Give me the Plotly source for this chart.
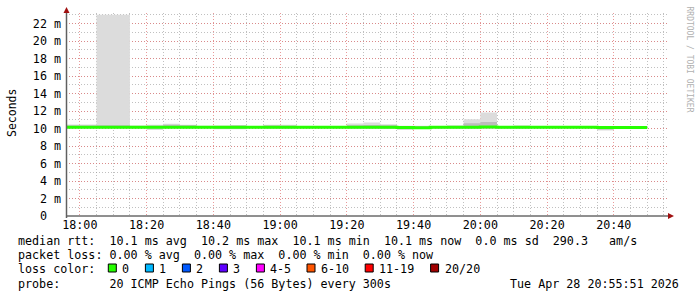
import plotly.graph_objects as go
import pandas as pd

DAY = "2026-04-28"
# --- data (5-minute bins, value belongs to the bin ending at the given time) ---
bin_end = ["18:00", "18:05", "18:10", "18:15", "18:20", "18:25", "18:30", "18:35",
           "18:40", "18:45", "18:50", "18:55", "19:00", "19:05", "19:10", "19:15",
           "19:20", "19:25", "19:30", "19:35", "19:40", "19:45", "19:50", "19:55",
           "20:00", "20:05", "20:10", "20:15", "20:20", "20:25", "20:30", "20:35",
           "20:40", "20:45", "20:50"]
median_ms = [10.14, 10.14, 10.15, 10.15, 10.14, 10.13, 10.14, 10.14,
             10.13, 10.13, 10.14, 10.13, 10.14, 10.14, 10.13, 10.13,
             10.14, 10.14, 10.14, 10.13, 10.12, 10.10, 10.14, 10.14,
             10.15, 10.16, 10.13, 10.13, 10.14, 10.14, 10.14, 10.14,
             10.12, 10.12, 10.12]
smoke_min = [10.06, 10.06, 10.06, 10.06, 10.06, 9.82, 10.05, 10.05,
             10.06, 9.92, 9.92, 10.05, 10.04, 10.04, 10.06, 10.06,
             10.06, 10.04, 10.04, 10.00, 9.86, 10.00, 10.04, 10.04,
             10.04, 10.04, 10.04, 10.04, 10.06, 10.06, 10.06, 10.06,
             9.77, 9.96, 9.98]
smoke_max = [10.46, 10.46, 23.0, 23.0, 10.35, 10.42, 10.54, 10.42,
             10.31, 10.34, 10.36, 10.28, 10.42, 10.42, 10.30, 10.30,
             10.30, 10.57, 10.69, 10.50, 10.31, 10.31, 10.30, 10.38,
             11.07, 11.83, 10.30, 10.32, 10.28, 10.28, 10.28, 10.28,
             10.26, 10.26, 10.26]
core_lo = [10.02, 10.02, 10.02, 10.02, 10.02, 10.00, 10.02, 10.02,
           10.02, 9.95, 9.95, 10.02, 10.00, 10.00, 10.02, 10.02,
           10.02, 10.00, 10.00, 9.98, 9.92, 9.98, 10.00, 10.00,
           10.00, 10.00, 10.00, 10.00, 10.02, 10.02, 10.02, 10.02,
           9.90, 9.96, 9.98]
core_hi = [10.34, 10.34, 10.38, 10.38, 10.30, 10.32, 10.42, 10.36,
           10.26, 10.26, 10.34, 10.24, 10.34, 10.32, 10.26, 10.26,
           10.26, 10.36, 10.40, 10.38, 10.24, 10.26, 10.26, 10.30,
           10.60, 10.75, 10.30, 10.32, 10.24, 10.24, 10.24, 10.24,
           10.22, 10.22, 10.22]

y_tick_vals = [0, 2, 4, 6, 8, 10, 12, 14, 16, 18, 20, 22]
y_tick_text = ["0\u00a0\u00a0", "2 m", "4 m", "6 m", "8 m", "10 m", "12 m",
               "14 m", "16 m", "18 m", "20 m", "22 m"]

loss_labels = ["0", "1", "2", "3", "4-5", "6-10", "11-19", "20/20"]
loss_colors = ["#26ff00", "#00b8ff", "#0059ff", "#5e00ff", "#ff00ff",
               "#ff5500", "#ff0000", "#a10000"]

legend_lines = [
    "median rtt:  10.1 ms avg  10.2 ms max  10.1 ms min  10.1 ms now  0.0 ms sd  290.3   am/s",
    "packet loss: 0.00 % avg  0.00 % max  0.00 % min  0.00 % now",
]
probe_text = "probe:       20 ICMP Echo Pings (56 Bytes) every 300s"
stamp_text = "Tue Apr 28 20:55:51 2026"

# --- layout geometry (pixels) ---
W, H = 697, 297
L, R, T, B = 66, 29, 13, 81
PW, PH = W - L - R, H - T - B
X_RANGE = [f"{DAY} 17:55:51", f"{DAY} 20:56:14"]
Y_RANGE = [0, PH / 8.75]

def px(x):
    return (x - L) / PW

def py(y):
    return (H - B - y) / PH

MONO = "DejaVu Sans Mono"
FS = 11.7

ends = pd.to_datetime([f"{DAY} {t}" for t in bin_end])
starts = ends - pd.Timedelta(minutes=5)
xs = list(starts) + [ends[-1]]

def ext(v):
    return list(v) + [v[-1]]

fig = go.Figure()
common = dict(mode="lines", line_shape="hv", hoverinfo="skip", showlegend=False)
fig.add_trace(go.Scatter(x=xs, y=ext(smoke_min), line=dict(width=0, color="#dcdcdc"), **common))
fig.add_trace(go.Scatter(x=xs, y=ext(smoke_max), fill="tonexty", fillcolor="#dcdcdc",
                         line=dict(width=0, color="#dcdcdc"), **common))
fig.add_trace(go.Scatter(x=xs, y=ext(core_lo), line=dict(width=0, color="#bcbcbc"), **common))
fig.add_trace(go.Scatter(x=xs, y=ext(core_hi), fill="tonexty", fillcolor="#bcbcbc",
                         line=dict(width=0, color="#bcbcbc"), **common))
fig.add_trace(go.Scatter(x=xs, y=ext(median_ms), line=dict(width=3, color=loss_colors[0]), **common))

MAJOR = "rgba(225,120,120,0.75)"
MINOR = "rgba(150,150,150,0.6)"

fig.update_xaxes(
    type="date", range=X_RANGE, tick0=f"{DAY} 18:00", dtick=20 * 60 * 1000,
    tickformat="%H:%M", showgrid=True, gridcolor=MAJOR, griddash="1px,2px", gridwidth=1,
    minor=dict(dtick=5 * 60 * 1000, showgrid=True, gridcolor=MINOR, griddash="1px,2px", gridwidth=1),
    showline=False, zeroline=False, ticks="", ticklabelstandoff=0,
    tickfont=dict(family=MONO, size=FS, color="#000"),
)
fig.update_yaxes(
    range=Y_RANGE, tickvals=y_tick_vals, ticktext=y_tick_text,
    showgrid=True, gridcolor=MAJOR, griddash="1px,2px", gridwidth=1,
    minor=dict(dtick=1, showgrid=True, gridcolor=MINOR, griddash="1px,2px", gridwidth=1),
    showline=False, zeroline=False, ticks="", ticklabelstandoff=4,
    tickfont=dict(family=MONO, size=FS, color="#000"),
)

shapes = []
# axes with arrows
shapes.append(dict(type="line", xref="paper", yref="paper", x0=px(66), x1=px(669),
                   y0=py(216), y1=py(216), line=dict(color="#202020", width=1)))
shapes.append(dict(type="line", xref="paper", yref="paper", x0=px(66.5), x1=px(66.5),
                   y0=py(218), y1=py(11), line=dict(color="#606060", width=1.5)))
shapes.append(dict(type="path", xref="paper", yref="paper",
                   path=f"M {px(668)} {py(213)} L {px(674)} {py(216)} L {px(668)} {py(219)} Z",
                   fillcolor="#a01010", line=dict(width=0)))
shapes.append(dict(type="path", xref="paper", yref="paper",
                   path=f"M {px(63.5)} {py(13)} L {px(66.5)} {py(7)} L {px(69.5)} {py(13)} Z",
                   fillcolor="#a01010", line=dict(width=0)))

# loss color boxes
box_left = [108.3, 145.4, 182.4, 219.4, 256.4, 307.0, 365.2, 430.6]
for bl, col in zip(box_left, loss_colors):
    shapes.append(dict(type="rect", xref="paper", yref="paper",
                       x0=px(bl), x1=px(bl + 8), y0=py(272), y1=py(264),
                       fillcolor=col, line=dict(color="#000", width=1)))
fig.update_layout(shapes=shapes)

def nb(s):
    return s.replace(" ", "\u00a0")

ann = []
line_y = [241, 255.2, 269.4, 283.6]
ann.append(dict(text=nb(legend_lines[0]), x=px(16), y=py(line_y[0])))
ann.append(dict(text=nb(legend_lines[1]), x=px(16), y=py(line_y[1])))
ann.append(dict(text=nb("loss color:"), x=px(16), y=py(line_y[2])))
for bl, lab in zip(box_left, loss_labels):
    ann.append(dict(text=lab, x=px(bl + 12), y=py(line_y[2])))
ann.append(dict(text=nb(probe_text), x=px(16), y=py(line_y[3])))
for a in ann:
    a.update(xref="paper", yref="paper", xanchor="left", yanchor="middle",
             showarrow=False, font=dict(family=MONO, size=FS, color="#000"))
ann.append(dict(text=nb(stamp_text), x=px(681), y=py(line_y[3]), xref="paper", yref="paper",
                xanchor="right", yanchor="middle", showarrow=False,
                font=dict(family=MONO, size=FS, color="#000")))
ann.append(dict(text="Seconds", x=px(11.5), y=py(113.5), xref="paper", yref="paper",
                xanchor="center", yanchor="middle", textangle=-90, showarrow=False,
                font=dict(family=MONO, size=11.5, color="#000")))
ann.append(dict(text=nb("RRDTOOL / TOBI OETIKER"), x=px(688.5), y=py(59), xref="paper", yref="paper",
                xanchor="center", yanchor="middle", textangle=90, showarrow=False,
                font=dict(family=MONO, size=8, color="#b0b0b0")))
fig.update_layout(annotations=ann)

fig.update_layout(
    width=W, height=H, margin=dict(l=L, r=R, t=T, b=B, pad=0),
    paper_bgcolor="#ffffff", plot_bgcolor="#ffffff", showlegend=False,
    font=dict(family=MONO, size=FS, color="#000"),
)
fig.write_html("out.html")
